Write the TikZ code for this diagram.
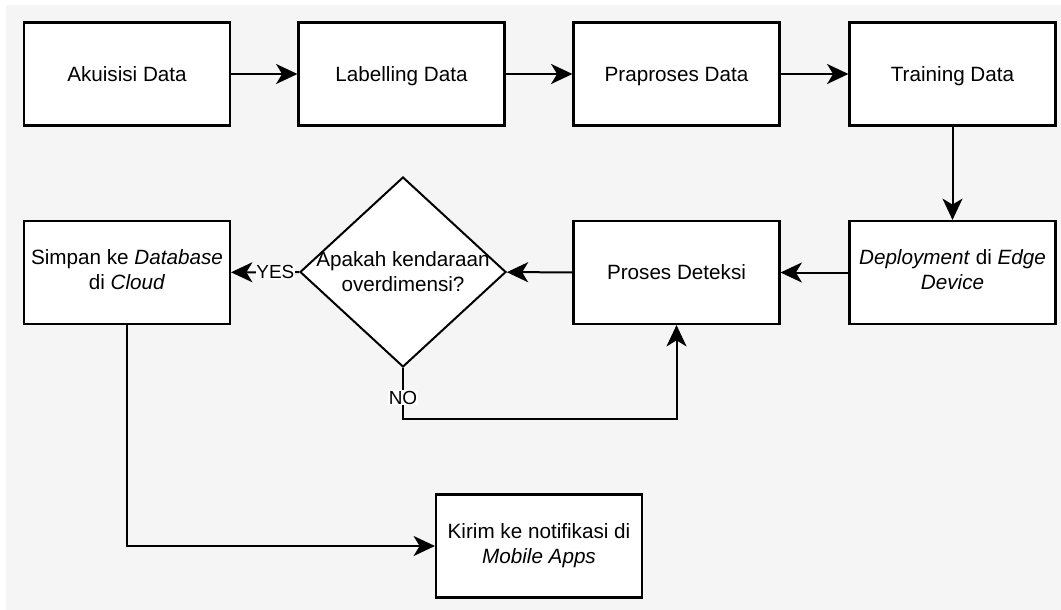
\documentclass[tikz,border=0pt]{standalone}
\usepackage{fontspec}
\setmainfont{Liberation Sans}
\usepackage{tikz}
\usetikzlibrary{shapes.geometric,positioning,arrows.meta}
\definecolor{kanvas}{HTML}{F5F5F5}
\newcommand{\tegak}{\rule[-4pt]{0pt}{19pt}}
\tikzstyle{arrow} = [line width=1.5pt,-{Stealth[length=16pt,width=15pt,inset=4.5pt]}]
\tikzset{
 b/.style
  = {rectangle, draw, fill=white, line width=1.6pt, minimum width=154.5pt,
     minimum height=77.25pt, align=center, font=\fontsize{15.5}{19}\selectfont,
     execute at begin node=\tegak, execute at end node=\tegak},
 d/.style
  = {diamond, draw, fill=white, line width=1.5pt, inner sep=0pt,
     minimum width=154.5pt, minimum height=142.5pt, font=\fontsize{15.5}{19}\selectfont},
 t/.style
  = {fill=white, inner sep=0.5pt, font=\fontsize{14.2}{17}\selectfont},
}

\begin{document}
\begin{tikzpicture}[x=0.75pt, y=-0.75pt]

% Canvas
\useasboundingbox (0,0) rectangle (1061,610);
\fill[kanvas] (6,5) rectangle (1061,610);

% Top row
\node[b] (akuisisi) at (127,74) {Akuisisi Data};
\node[b] (labelling) at (401.5,74) {Labelling Data};
\node[b] (praproses) at (676.5,74) {Praproses Data};
\node[b] (training) at (952.5,74) {Training Data};

% Second row
\node[b] (deploy) at (952.5,272.5) {\textit{Deployment} di \textit{Edge}\\\textit{Device}};
\node[b] (proses) at (676.5,272.5) {Proses Deteksi};
\node[d] (cek) at (403,272) {\smash{\makebox[0pt]{\raisebox{-5pt}{\begin{tabular}{@{}c@{}}Apakah kendaraan\\overdimensi?\end{tabular}}}}};
\node[b] (simpan) at (127,272.5) {Simpan ke \textit{Database}\\di \textit{Cloud}};

% Notification
\node[b] (kirim) at (539,546) {Kirim ke notifikasi di\\\textit{Mobile Apps}};

% Flow
\draw[arrow] (akuisisi) -- (labelling);
\draw[arrow] (labelling) -- (praproses);
\draw[arrow] (praproses) -- (training);
\draw[arrow] (training) -- (deploy);
\draw[arrow] (deploy) -- (proses);
\draw[arrow] (proses) -- (cek);
\draw[arrow] (cek) -- node[t, pos=0.35] {YES} (simpan);
\draw[arrow] (cek.south) -- node[t, pos=0.58] {NO} ++(0,51) -| (proses.south);
\draw[arrow] (simpan.south) |- (kirim.west);

\end{tikzpicture}
\end{document}
